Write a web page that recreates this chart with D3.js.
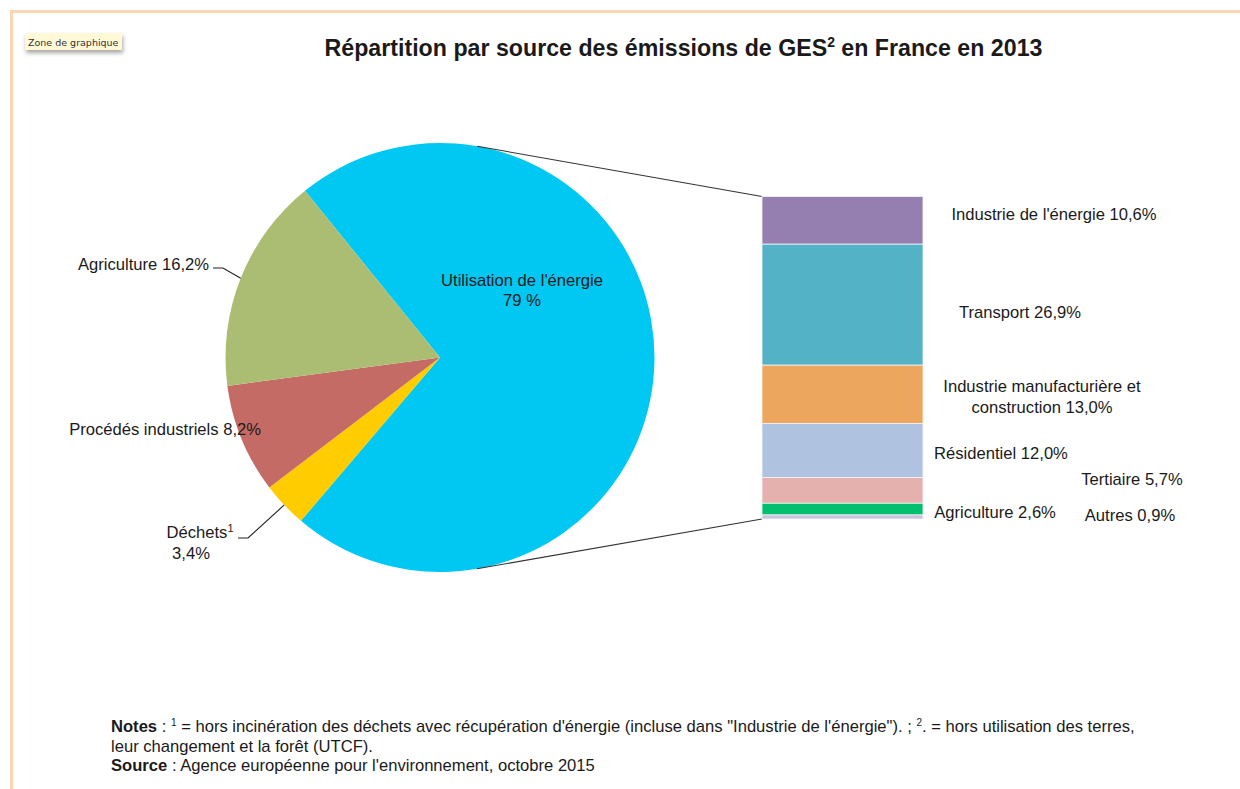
<!DOCTYPE html>
<html>
<head>
<meta charset="utf-8">
<script src="https://cdn.jsdelivr.net/npm/d3@7"></script>
<style>
body { margin: 0; background: #fff; }
.font { font-family: "Liberation Sans", Arial, sans-serif; fill: #1a1a1a; }
</style>
</head>
<body>
<svg id="chart" width="1240" height="789"></svg>
<script>
// pie slices (clockwise, starting with the exploded one)
const PIE_LABELS = ["Utilisation de l'énergie", "Déchets", "Procédés industriels", "Agriculture"];
const PIE_VALUE_TXT = ["79 %", "3,4%", "8,2%", "16,2%"];
const PIE_COLORS = ["#00c8f2", "#ffcc00", "#c46b66", "#abbd73"];
// breakdown of "Utilisation de l'énergie", top to bottom
const BAR_LABELS = ["Industrie de l'énergie", "Transport", "Industrie manufacturière et construction",
                    "Résidentiel", "Tertiaire", "Agriculture", "Autres"];
const BAR_VALUES = [10.6, 26.9, 13.0, 12.0, 5.7, 2.6, 0.9];
const BAR_COLORS = ["#957eb0", "#54b2c6", "#eca65e", "#afc2e0", "#e4b1ae", "#00c06f", "#c9c3de"];
const PIE_VALUES = [d3.sum(BAR_VALUES), 3.4, 8.2, 16.2];

const SVG_WIDTH = 1240;
const SVG_HEIGHT = 789;
const PIE_CX = 440;
const PIE_CY = 357.5;
const PIE_R = 214.5;
const PIE_START = -39 * Math.PI / 180;
const BAR_X = 762;
const BAR_W = 161;
const BAR_TOP = 196.5;
const BAR_BOTTOM = 519;
const FONT_SIZE_LABEL = 16.6;
const FONT_SIZE_NOTE = 16.6;

const fmt = function(v) { return v.toFixed(1).replace(".", ","); };

var svg = d3.select("#chart");

// outer frame (only top and left edges are visible)
svg.append("path")
    .attr("d", "M11.5," + SVG_HEIGHT + "V11.5H" + SVG_WIDTH)
    .attr("fill", "none")
    .attr("stroke", "#fcd5b4")
    .attr("stroke-width", 3);

// "Zone de graphique" tooltip
var defs = svg.append("defs");
var shadow = defs.append("filter").attr("id", "shadow")
    .attr("x", "-20%").attr("y", "-40%").attr("width", "140%").attr("height", "200%");
shadow.append("feDropShadow")
    .attr("dx", 1).attr("dy", 3).attr("stdDeviation", 2)
    .attr("flood-color", "#000").attr("flood-opacity", 0.35);
svg.append("rect")
    .attr("x", 25).attr("y", 33).attr("width", 97).attr("height", 17)
    .attr("fill", "#fff9d8")
    .attr("filter", "url(#shadow)");
svg.append("text")
    .attr("x", 28).attr("y", 45.5)
    .attr("font-family", "'DejaVu Sans', sans-serif")
    .attr("font-size", 9.5)
    .attr("fill", "#333")
    .text("Zone de graphique");

// title
var title = svg.append("text")
    .attr("class", "font")
    .attr("x", 683.5).attr("y", 56)
    .attr("text-anchor", "middle")
    .attr("font-size", 23.2)
    .attr("font-weight", "bold")
    .attr("fill", "#000");
title.append("tspan").text("Répartition par source des émissions de GES");
title.append("tspan").attr("font-size", 14).attr("dy", -9).text("2");
title.append("tspan").attr("dy", 9).text(" en France en 2013");

// pie
var pie = d3.pie()
    .sort(null)
    .startAngle(PIE_START)
    .endAngle(PIE_START + 2 * Math.PI);
var arcs = pie(PIE_VALUES);
var arc = d3.arc().innerRadius(0).outerRadius(PIE_R);
var pieGroup = svg.append("g")
    .attr("transform", "translate(" + PIE_CX + "," + PIE_CY + ")");
pieGroup.selectAll("path")
    .data(arcs)
    .enter()
    .append("path")
    .attr("d", arc)
    .attr("fill", function(d, i) { return PIE_COLORS[i]; });

// connector lines, tangent to the pie, towards the bar corners
function tangentPoint(px, py, side) {
    var dx = px - PIE_CX, dy = py - PIE_CY;
    var dist = Math.sqrt(dx * dx + dy * dy);
    var a = Math.atan2(dy, dx) + side * Math.acos(PIE_R / dist);
    return [PIE_CX + PIE_R * Math.cos(a), PIE_CY + PIE_R * Math.sin(a)];
}
var yScale = d3.scaleLinear()
    .domain([0, d3.sum(BAR_VALUES)])
    .range([BAR_TOP, BAR_BOTTOM]);
var t1 = tangentPoint(BAR_X, yScale(0), -1);
var t2 = tangentPoint(BAR_X, yScale(d3.sum(BAR_VALUES)), 1);
svg.append("line")
    .attr("x1", t1[0]).attr("y1", t1[1]).attr("x2", BAR_X).attr("y2", yScale(0))
    .attr("stroke", "#333").attr("stroke-width", 1.1);
svg.append("line")
    .attr("x1", t2[0]).attr("y1", t2[1]).attr("x2", BAR_X).attr("y2", yScale(d3.sum(BAR_VALUES)))
    .attr("stroke", "#333").attr("stroke-width", 1.1);

// stacked bar
var cum = d3.cumsum(BAR_VALUES);
var starts = BAR_VALUES.map(function(v, i) { return cum[i] - v; });
svg.append("g").selectAll("rect")
    .data(BAR_VALUES)
    .enter()
    .append("rect")
    .attr("x", BAR_X)
    .attr("width", BAR_W)
    .attr("y", function(d, i) { return yScale(starts[i]); })
    .attr("height", function(d) { return yScale(d) - yScale(0); })
    .attr("fill", function(d, i) { return BAR_COLORS[i]; })
    .attr("stroke", "#f4f4f8")
    .attr("stroke-width", 0.8);

// bar labels: [x center, first baseline]
const BAR_LABEL_POS = [[1054, 219.5], [1020, 317.5], [1042, 391.5], [1001, 458.5], [1132, 484.5], [995, 517.5], [1130, 520.5]];
var barLabels = svg.append("g").attr("class", "font").attr("font-size", FONT_SIZE_LABEL).attr("text-anchor", "middle");
BAR_LABELS.forEach(function(lab, i) {
    var t = barLabels.append("text")
        .attr("x", BAR_LABEL_POS[i][0])
        .attr("y", BAR_LABEL_POS[i][1]);
    if (i === 2) {
        t.append("tspan").attr("x", BAR_LABEL_POS[i][0]).text("Industrie manufacturière et");
        t.append("tspan").attr("x", BAR_LABEL_POS[i][0]).attr("dy", 21)
            .text("construction " + fmt(BAR_VALUES[i]) + "%");
    } else {
        t.text(lab + " " + fmt(BAR_VALUES[i]) + "%");
    }
});

// pie labels
var pieLabels = svg.append("g").attr("class", "font").attr("font-size", FONT_SIZE_LABEL);
pieLabels.append("text")
    .attr("x", 522).attr("y", 285.5).attr("text-anchor", "middle")
    .text(PIE_LABELS[0]);
pieLabels.append("text")
    .attr("x", 522).attr("y", 305.5).attr("text-anchor", "middle")
    .text(PIE_VALUE_TXT[0]);
pieLabels.append("text")
    .attr("x", 209).attr("y", 269.5).attr("text-anchor", "end")
    .text(PIE_LABELS[3] + " " + PIE_VALUE_TXT[3]);
pieLabels.append("text")
    .attr("x", 261).attr("y", 434.5).attr("text-anchor", "end")
    .text(PIE_LABELS[2] + " " + PIE_VALUE_TXT[2]);
var dech = pieLabels.append("text")
    .attr("x", 200).attr("y", 537.5).attr("text-anchor", "middle");
dech.append("tspan").text(PIE_LABELS[1]);
dech.append("tspan").attr("font-size", 11).attr("dy", -6).text("1");
pieLabels.append("text")
    .attr("x", 191).attr("y", 558.5).attr("text-anchor", "middle")
    .text(PIE_VALUE_TXT[1]);

// leader lines from the middle of the slice edge
function edgePoint(d, frac) {
    var a = d.startAngle + (d.endAngle - d.startAngle) * frac - Math.PI / 2;
    return [PIE_CX + PIE_R * Math.cos(a), PIE_CY + PIE_R * Math.sin(a)];
}
var pAgri = edgePoint(arcs[3], 0.5);
var pDech = edgePoint(arcs[1], 0.5);
var leader = d3.line();
svg.append("path")
    .attr("d", leader([[213, 268], [223, 268], pAgri]))
    .attr("fill", "none").attr("stroke", "#222").attr("stroke-width", 1.1);
svg.append("path")
    .attr("d", leader([[238, 538], [248, 538], pDech]))
    .attr("fill", "none").attr("stroke", "#222").attr("stroke-width", 1.1);

// notes
var notes = svg.append("g").attr("class", "font").attr("font-size", FONT_SIZE_NOTE).attr("fill", "#000");
var n1 = notes.append("text").attr("x", 111).attr("y", 732);
n1.append("tspan").attr("font-weight", "bold").text("Notes");
n1.append("tspan").text(" : ");
n1.append("tspan").attr("font-size", 10).attr("dy", -6).text("1");
n1.append("tspan").attr("dy", 6).text(" = hors incinération des déchets avec récupération d'énergie (incluse dans \"Industrie de l'énergie\"). ; ");
n1.append("tspan").attr("font-size", 10).attr("dy", -6).text("2");
n1.append("tspan").attr("dy", 6).text(". = hors utilisation des terres,");
notes.append("text").attr("x", 111).attr("y", 751.5)
    .text("leur changement et la forêt (UTCF).");
var n3 = notes.append("text").attr("x", 111).attr("y", 771);
n3.append("tspan").attr("font-weight", "bold").text("Source");
n3.append("tspan").text(" : Agence européenne pour l'environnement, octobre 2015");
</script>
</body>
</html>
